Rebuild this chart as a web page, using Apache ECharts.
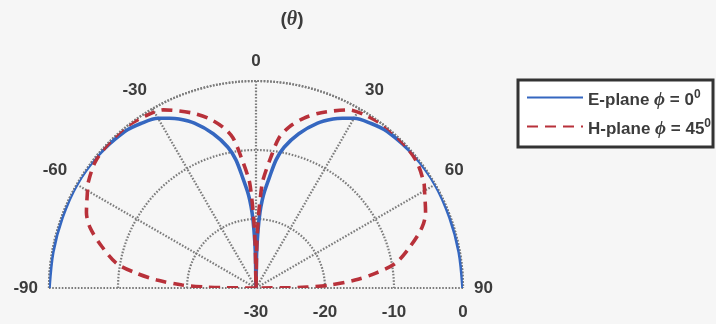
<!DOCTYPE html>
<html>
<head>
<meta charset="utf-8">
<script src="https://cdn.jsdelivr.net/npm/echarts@6/dist/echarts.min.js"></script>
<style>
  html, body { margin: 0; padding: 0; background: #f6f6f6; }
  #chart { width: 716px; height: 324px; }
</style>
</head>
<body>
<div id="chart"></div>
<script>
// Radiation pattern cuts: angle theta in degrees, normalised gain in dB
const ePlaneAngles = [-90, -80, -70, -60, -50, -40, -35, -30, -27, -24.5, -20.5, -15.5, -11.3, -8.9, -6.8, -5, -4, -3, -2, -1, 0,
                      1, 2, 3, 4, 5, 6.8, 8.9, 11.3, 15.5, 20.5, 24.5, 27, 30, 35, 40, 50, 60, 70, 80, 90];
const ePlaneGain   = [0, -0.1, -0.1, 0, -0.1, -0.4, -0.9, -1.6, -2.4, -3.1, -4.5, -6.8, -9.2, -11.2, -14, -16, -17.3, -19, -21.6, -25, -30,
                      -25, -21.6, -19, -17.3, -16, -14, -11.2, -9.2, -6.8, -4.5, -3.1, -2.4, -1.6, -0.9, -0.4, -0.1, 0, -0.1, -0.1, 0];

const hPlaneAngles = [-90, -89.5, -88.9, -87.7, -85.4, -83, -80, -75, -70, -66, -60, -58, -52, -46, -39, -32, -27.5, -20.4, -15.8, -11.6, -8.7, -6.5, -3.7, -3, -2, -1, 0,
                      1, 2, 3, 3.7, 6.5, 8.7, 11.6, 15.8, 20.4, 27.5, 32, 39, 46, 52, 58, 60, 66, 70, 75, 80, 83, 85.4, 87.7, 88.9, 89.5, 90];
const hPlaneGain   = [-30, -25, -22.6, -19.3, -15.6, -12.6, -9.5, -6.9, -4.4, -3.1, -1.8, -1.3, -0.4, -0.1, 0, -0.4, -0.9, -2.9, -4.4, -6.2, -8.0, -10.9, -14.3, -16, -19.5, -24, -30,
                      -24, -19.5, -16, -14.3, -10.9, -8.0, -6.2, -4.4, -2.9, -0.9, -0.4, 0, -0.1, -0.4, -1.3, -1.8, -3.1, -4.4, -6.9, -9.5, -12.6, -15.6, -19.3, -22.6, -25, -30];

const seriesNames = ['E-plane', 'H-plane'];
const phiDegrees = [0, 45];

const gainMin = -30, gainMax = 0, gainStep = 10;
const angleMin = -90, angleMax = 90, angleStep = 30;

const cx = 256, cy = 288, outerR = 207;

const gridStyle = { color: '#7c7c7c', width: 2.2, type: [1.6, 1.6] };
const labelFont = { fontFamily: 'Liberation Sans', fontWeight: 'bold', fontSize: 17, color: '#3c3c3c' };

function toPolar(angles, gains) {
  return angles.map((a, i) => [gains[i], a]);
}

const chart = echarts.init(document.getElementById('chart'));
chart.setOption({
  backgroundColor: '#f6f6f6',
  animation: false,
  title: {
    text: '({i|θ})',
    left: 287, top: 5,
    textAlign: 'center',
    textStyle: {
      fontFamily: 'Liberation Sans', fontSize: 19, fontWeight: 'bold', color: '#3c3c3c',
      rich: { i: { fontFamily: 'Liberation Serif', fontStyle: 'italic', fontWeight: 'bold', fontSize: 20, color: '#3c3c3c' } }
    }
  },
  polar: { center: [cx, cy], radius: [0, outerR] },
  angleAxis: {
    type: 'value', min: angleMin, max: angleMax, interval: angleStep,
    startAngle: 180, endAngle: 0, clockwise: true,
    axisLine: { show: true, lineStyle: gridStyle },
    axisTick: { show: false },
    axisLabel: Object.assign({ margin: 11 }, labelFont),
    splitLine: { show: true, lineStyle: gridStyle }
  },
  radiusAxis: {
    type: 'value', min: gainMin, max: gainMax, interval: gainStep,
    axisLine: { show: false },
    axisTick: { show: false },
    axisLabel: { show: false },
    splitLine: { show: true, lineStyle: gridStyle }
  },
  // linear gain scale along the right-hand radius, used for its tick labels
  grid: { left: cx, width: outerR, top: 0, height: cy },
  xAxis: {
    type: 'value', min: gainMin, max: gainMax, interval: gainStep,
    axisLine: { show: false }, axisTick: { show: false }, splitLine: { show: false },
    axisLabel: Object.assign({ margin: 16 }, labelFont)
  },
  yAxis: { type: 'value', show: false },
  legend: {
    orient: 'vertical', left: 518, top: 80,
    itemWidth: 56, itemHeight: 14, itemGap: 8,
    padding: [9, 2, 8, 8],
    borderColor: '#333', borderWidth: 3, backgroundColor: '#ffffff',
    itemStyle: { opacity: 0 },
    formatter: name => {
      const k = seriesNames.indexOf(name);
      return name + ' {i|ϕ} = ' + phiDegrees[k] + '{sup|0}';
    },
    textStyle: Object.assign({
      padding: [6, 0, 0, 0],
      rich: {
        i: { fontFamily: 'Liberation Serif', fontStyle: 'italic', fontWeight: 'bold', fontSize: 19, color: '#3c3c3c' },
        sup: { fontFamily: 'Liberation Sans', fontWeight: 'bold', fontSize: 12, color: '#3c3c3c', padding: [0, 0, 11, 0] }
      }
    }, labelFont)
  },
  series: [
    {
      name: seriesNames[0], type: 'line', coordinateSystem: 'polar',
      data: toPolar(ePlaneAngles, ePlaneGain),
      symbol: 'none', smooth: 0.3,
      lineStyle: { color: '#3567c0', width: 3.6 },
      itemStyle: { color: '#3567c0' }, z: 3
    },
    {
      name: seriesNames[1], type: 'line', coordinateSystem: 'polar',
      data: toPolar(hPlaneAngles, hPlaneGain),
      symbol: 'none', smooth: 0.3,
      lineStyle: { color: '#b8313a', width: 3.6, type: [11, 7] },
      itemStyle: { color: '#b8313a' }, z: 4
    }
  ]
});
</script>
</body>
</html>
